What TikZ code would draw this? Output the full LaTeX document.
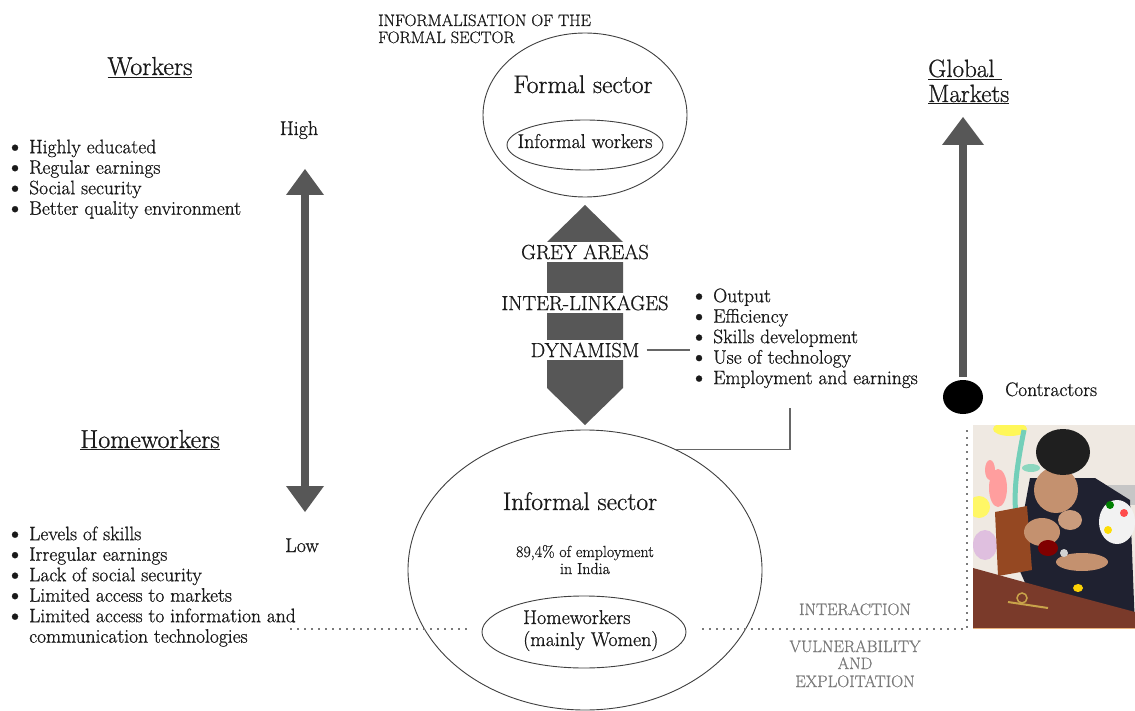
\documentclass[tikz,border=0pt]{standalone}
\usepackage{fontspec}
\setmainfont{Latin Modern Roman}[FakeBold=0.8]
\usetikzlibrary{shapes.geometric,arrows.meta,calc}
\definecolor{arrgray}{HTML}{575757}
\definecolor{txt}{HTML}{1A1A1A}
\definecolor{lgray}{HTML}{7A7A7A}
\definecolor{cream}{HTML}{EFE9E2}
\definecolor{skin}{HTML}{C4916F}
\definecolor{navy}{HTML}{1F2130}
\definecolor{wood}{HTML}{7A3A2A}
\definecolor{goldc}{HTML}{C9A34A}
\newcommand{\fs}[1]{\fontsize{#1}{#1}\selectfont}
\newcommand{\bul}{\makebox[19pt][l]{\hspace*{-5pt}\raisebox{-0.09em}{\scalebox{1.4}{\textbullet}}}}
\newcommand{\nobul}{\makebox[19pt][l]{}}
\begin{document}
\begin{tikzpicture}[x=1pt,y=-1pt,
  lbl/.style={inner sep=0pt, text=txt},
  blist/.style={lbl, anchor=north west, align=left, font=\fontsize{19.5}{20.5}\selectfont},
  hdg/.style={lbl, anchor=base, font=\fs{26}},
  ell/.style={draw=black!75, line width=0.9pt, ellipse, inner sep=0pt},
  conn/.style={draw=black!60, line width=1.1pt},
  dotline/.style={draw=lgray, line width=1.6pt, dash pattern=on 1.6pt off 5.4pt},
  band/.style={fill=white, inner xsep=3pt, inner ysep=0pt, minimum height=20pt, font=\fs{20.5}, text=txt},
  grlbl/.style={lbl, anchor=base, text=lgray, font=\fs{16.6}},
  dblarrow/.style={draw=arrgray, line width=8pt, {Triangle[width=38pt,length=26pt,line width=0pt]}-{Triangle[width=38pt,length=26pt,line width=0pt]}},
  uparrow/.style={draw=arrgray, line width=8pt, -{Triangle[width=42pt,length=28pt,line width=0pt]}}
]
\useasboundingbox (0,0) rectangle (1135,711);
\fill[white] (0,0) rectangle (1135,711);

% ---------- left: workers ----------
\node[hdg] (workers) at (150,75) {\underline{Workers}};
\node[blist] (wklist) at (10,139.5) {\bul Highly educated\\ \bul Regular earnings\\ \bul Social security\\ \bul Better quality environment};

\node[lbl, anchor=base, font=\fs{20}] (high) at (299,135) {High};
\node[lbl, anchor=base, font=\fs{20}] (low) at (302,552) {Low};
\coordinate (hightip) at (305,169);
\coordinate (lowtip) at (305,512);
\draw[dblarrow] (lowtip) -- (hightip);

\node[hdg] (homew) at (150,448) {\underline{Homeworkers}};
\node[blist] (hklist) at (10,526.3) {\bul Levels of skills\\ \bul Irregular earnings\\ \bul Lack of social security\\ \bul Limited access to markets\\ \bul Limited access to information and\\ \nobul communication technologies};

% ---------- center top ----------
\node[lbl, anchor=base west, font=\fs{16.5}] (infa) at (378,26) {INFORMALISATION OF THE};
\node[lbl, anchor=base west, font=\fs{16.5}] (infb) at (378,43) {FORMAL SECTOR};
\node[ell, minimum width=204pt, minimum height=164pt] (formal) at (585,115) {};
\node[lbl, anchor=base, font=\fs{25.5}] (formalt) at (583,93) {Formal sector};
\node[ell, minimum width=156pt, minimum height=50pt] (infw) at (585,145) {};
\node[lbl, anchor=base, font=\fs{20}] (infwt) at (585,148) {Informal workers};

% ---------- center block arrow ----------
\fill[arrgray] (585,205) -- (623,242) -- (623,388) -- (585,425) -- (547,388) -- (547,242) -- cycle;
\node[band] (grey) at (585,252) {GREY AREAS};
\node[band] (inter) at (585,303) {INTER-LINKAGES};
\node[band] (dyn) at (585,350) {DYNAMISM};

% ---------- right list ----------
\node[blist] (rlist) at (694,288.3) {\bul Output\\ \bul Efficiency\\ \bul Skills development\\ \bul Use of technology\\ \bul Employment and earnings};
\draw[conn] ([xshift=4pt]dyn.east) -- ([xshift=-4pt]dyn.east -| rlist.west);

% ---------- informal sector ----------
\node[ell, minimum width=354pt, minimum height=280pt] (inf) at (585,570) {};
\node[lbl, anchor=base, font=\fs{25.5}] (inft) at (580,510) {Informal sector};
\node[lbl, anchor=base, font=\fs{16}] (pct1) at (585,557) {89,4\% of employment};
\node[lbl, anchor=base, font=\fs{16}] (pct2) at (585,574) {in India};
\node[ell, minimum width=204pt, minimum height=72pt] (hw) at (584,632) {};
\node[lbl, anchor=base west, font=\fs{20}] (hw1) at (523,624) {Homeworkers};
\node[lbl, anchor=base west, font=\fs{20}] (hw2) at (523,646) {(mainly Women)};

\coordinate (lk) at (790,408);
\draw[conn] (lk) |- (inf.53);

% ---------- dotted lines ----------
\coordinate (dl) at (290,629);
\coordinate (dc) at (967,629);
\coordinate (dt) at (967,425);
\draw[dotline] (dl) -- ([xshift=-10pt]dl -| hw.west);
\draw[dotline] ([xshift=16pt]dl -| hw.east) -- (dc) -- (dt);

\node[grlbl] (interact) at (855,615) {INTERACTION};
\node[grlbl] (vuln) at (855,652) {VULNERABILITY};
\node[grlbl] (andw) at (855,669) {AND};
\node[grlbl] (expl) at (855,687) {EXPLOITATION};

% ---------- right: global markets ----------
\node[lbl, anchor=base west, font=\fs{25}] (glob) at (928,77) {\underline{Global\ }};
\node[lbl, anchor=base west, font=\fs{25}] (mkt) at (928,102) {\underline{Markets}};
\node[fill=black, ellipse, minimum width=40pt, minimum height=34pt, inner sep=0pt] (ctr) at (963,397) {};
\node[lbl, anchor=base west, font=\fs{19.5}] (contr) at (1005,396) {Contractors};
\coordinate (gtip) at (963,117);
\draw[uparrow] ($(ctr.north)+(0,-3)$) -- (gtip);

% ---------- photo (stylised) ----------
\begin{scope}
\clip (973,425) rectangle (1135,628);
\fill[cream] (973,425) rectangle (1135,628);
\fill[yellow!65!white] (1010,429) ellipse (17 and 7);
\draw[cyan!45!green!55, line width=5pt] (1024,430) .. controls (1016,470) and (1012,500) .. (1018,528);
\fill[cyan!40!green!45] (1031,468) ellipse (9 and 4);
\fill[pink!70!red!80] (998,488) ellipse (9 and 19);
\fill[pink!70!red!80] (990,470) ellipse (5 and 10);
\fill[yellow!60] (979,507) circle (11);
\fill[violet!25] (985,545) ellipse (12 and 15);
\fill[gray!45] (1090,485) rectangle (1135,505);
\fill[navy] (1030,478) -- (1095,478) -- (1130,500) -- (1135,628) -- (1045,628) -- (1015,560) -- cycle;
\fill[gray!10] (1117,522) ellipse (18 and 22);
\fill[green!50!black] (1110,505) circle (4);
\fill[red!70] (1124,513) circle (4);
\fill[yellow!80!orange] (1108,530) circle (4);
\fill[orange!80] (1062,600) ellipse (7 and 5);
\fill[yellow!70!orange] (1078,588) ellipse (5 and 4);
\fill[red!60!black] (1090,610) ellipse (8 and 5);
\fill[skin] (1056,490) ellipse (22 and 23);
\fill[skin!90!white] (1070,520) ellipse (12 and 10);
\fill[black!88] (1063,452) ellipse (27 and 23);
\fill[wood!80!orange] (995,512) -- (1027,506) -- (1032,570) -- (998,576) -- cycle;
\fill[skin] (1042,532) ellipse (18 and 14);
\fill[red!50!black] (1048,548) ellipse (10 and 8);
\fill[skin] (1082,562) ellipse (26 and 9);
\fill[gray!35] (1064,553) circle (4);
\fill[wood] (973,568) -- (1060,592) -- (1135,612) -- (1135,628) -- (973,628) -- cycle;
\draw[goldc, line width=2pt] (1008,602) -- (1048,608);
\draw[goldc, line width=1.5pt] (1022,598) circle (5);
\draw[orange!40!brown!60, line width=1pt] (973,628) -- (1135,628);
\end{scope}
\end{tikzpicture}
\end{document}
